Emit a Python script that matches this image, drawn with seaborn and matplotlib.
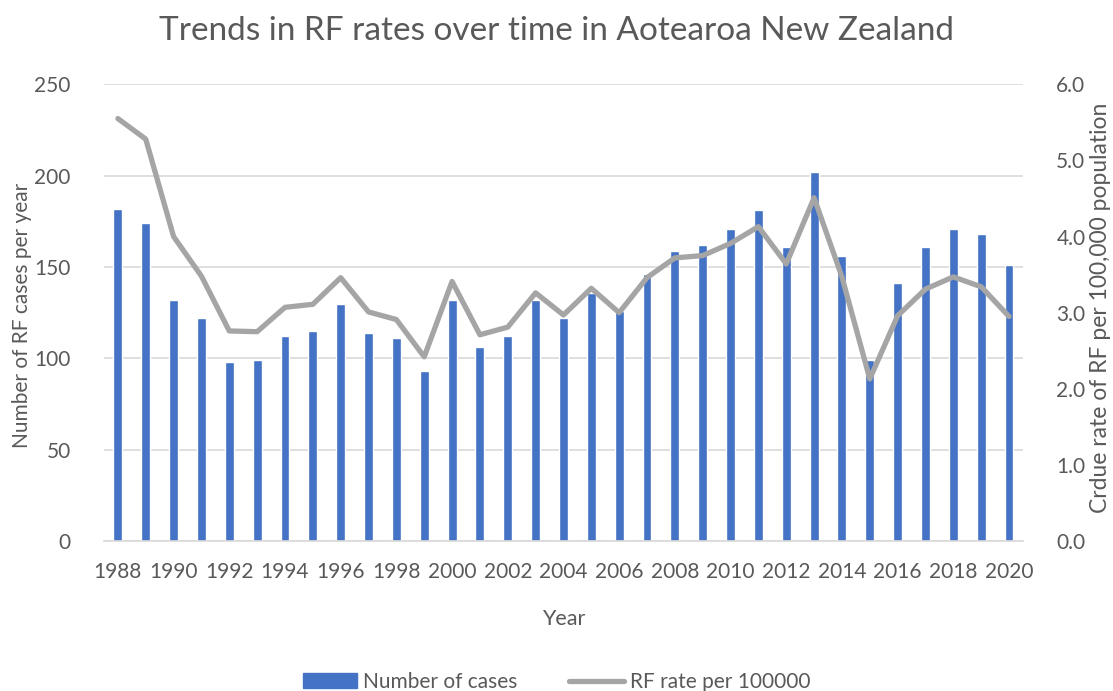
import matplotlib
matplotlib.use('Agg')
import matplotlib.pyplot as plt
import seaborn as sns
import numpy as np
import pandas as pd
from matplotlib.patches import Patch
from matplotlib.lines import Line2D

years = list(range(1988, 2021))
cases = [182, 174, 132, 122, 98, 99, 112, 115, 130, 114, 111, 93, 132,
         106, 112, 132, 122, 136, 126, 146, 159, 162, 171, 181, 161, 202,
         156, 99, 141, 161, 171, 168, 151]
rates = [5.55, 5.28, 4.00, 3.48, 2.76, 2.75, 3.07, 3.11, 3.46, 3.01, 2.91,
         2.42, 3.41, 2.71, 2.81, 3.26, 2.97, 3.32, 3.00, 3.46, 3.72, 3.75,
         3.91, 4.13, 3.64, 4.51, 3.47, 2.13, 2.96, 3.31, 3.47, 3.34, 2.95]

bar_color = '#4472C4'
line_color = '#A5A5A5'
text_color = '#595959'
grid_color = '#D9D9D9'

sns.set_theme(style='white')
plt.rcParams['font.family'] = ['Lato', 'DejaVu Sans']
plt.rcParams['text.color'] = text_color

df = pd.DataFrame({'year': [str(y) for y in years], 'cases': cases, 'rate': rates})

fig = plt.figure(figsize=(11.13, 6.91), dpi=100)
ax = fig.add_axes([0.0934, 0.217, 0.8257, 0.661])

sns.barplot(data=df, x='year', y='cases', color=bar_color, width=0.32,
            saturation=1, ax=ax, zorder=2)
ax.set_xlim(-0.5, len(years) - 0.5)
ax.set_ylim(0, 250)
ax.set_yticks(range(0, 251, 50))
ax.yaxis.grid(True, color=grid_color, linewidth=1.2, zorder=0)
ax.set_axisbelow(True)
ax.set_xticks(range(0, len(years), 2))
ax.set_xticklabels(df['year'][::2])
ax.tick_params(axis='both', length=0, labelsize=15, labelcolor=text_color)
ax.tick_params(axis='y', pad=24)
ax.tick_params(axis='x', pad=15)
for s in ['top', 'right', 'left']:
    ax.spines[s].set_visible(False)
ax.spines['bottom'].set_color(grid_color)
ax.spines['bottom'].set_linewidth(1.2)
ax.set_xlabel('Year', fontsize=15.5, color=text_color)
ax.xaxis.set_label_coords(0.5, -0.148)
ax.set_ylabel('')

ax2 = ax.twinx()
sns.lineplot(x=np.arange(len(years)), y=rates, color=line_color, linewidth=3.8,
             ax=ax2, solid_joinstyle='round', solid_capstyle='round')
ax2.set_ylim(0, 6)
ax2.set_yticks(np.arange(0, 6.1, 1.0))
ax2.set_yticklabels([f'{v:.1f}' for v in np.arange(0, 6.1, 1.0)])
ax2.tick_params(axis='y', length=0, labelsize=15, labelcolor=text_color, pad=24)
for s in ax2.spines.values():
    s.set_visible(False)
ax2.set_ylabel('')
ax2.grid(False)

fig.text(0.0198, 0.543, 'Number of RF cases per year', rotation=90,
         ha='center', va='center', fontsize=15, color=text_color)
fig.text(0.989, 0.555, 'Crdue rate of RF per 100,000 population', rotation=90,
         ha='center', va='center', fontsize=16.5, color=text_color)

fig.text(0.5, 0.955, 'Trends in RF rates over time in Aotearoa New Zealand',
         ha='center', va='center', fontsize=24, color=text_color)

handles = [Patch(color=bar_color, label='Number of cases'),
           Line2D([0], [0], color=line_color, linewidth=3.8, label='RF rate per 100000')]
fig.legend(handles=handles, loc='center', bbox_to_anchor=(0.5, 0.013), ncol=2,
           frameon=False, fontsize=15, handlelength=2.6, columnspacing=2.5,
           handletextpad=0.3, labelcolor=text_color)

fig.savefig('out.png', dpi=100)
